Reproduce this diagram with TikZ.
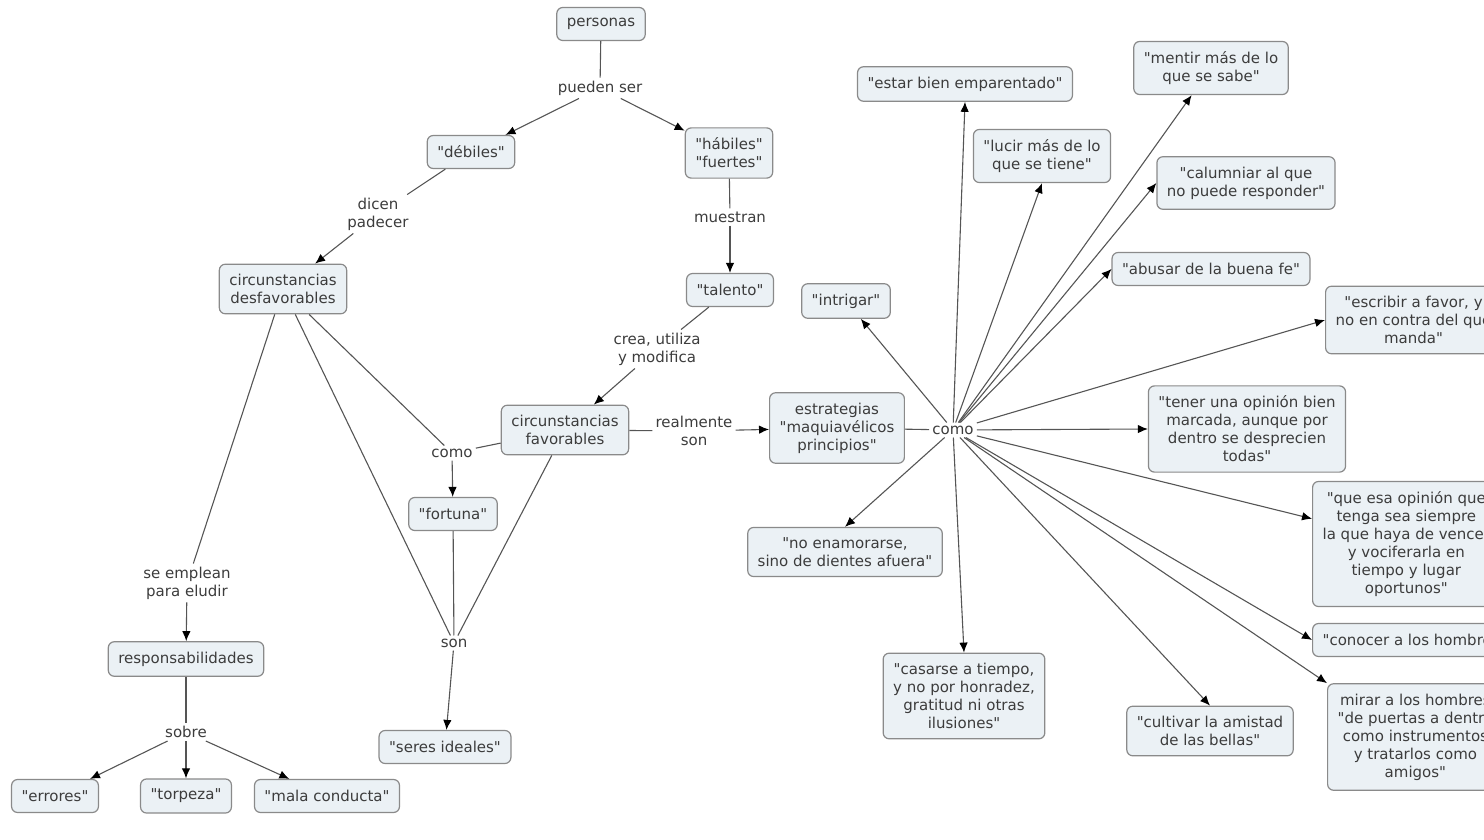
\documentclass[tikz,border=0pt]{standalone}
\usepackage{fontspec}
\setmainfont{DejaVu Sans}[Ligatures=TeXOff]
\usetikzlibrary{arrows.meta}
\definecolor{boxfill}{HTML}{EBF1F5}
\definecolor{boxline}{HTML}{8A8A8A}
\definecolor{txtgray}{HTML}{3C3C3C}
\definecolor{linegray}{HTML}{555555}
\begin{document}
\begin{tikzpicture}[x=1pt,y=-1pt,
    concept/.style={draw=boxline,line width=1.2pt,rounded corners=6pt,fill=boxfill,text=txtgray,align=center,inner xsep=10pt,inner ysep=10pt,minimum height=33pt,font=\fontsize{15}{18}\selectfont},
    linkphrase/.style={text=txtgray,align=center,inner sep=3pt,font=\fontsize{15}{18}\selectfont},
    joint/.style={draw=linegray,line width=1.1pt},
    arrowed/.style={joint,-{Latex[length=10pt,width=8.5pt,color=black]}}]
    \useasboundingbox (0,0) rectangle (1484,840);
    \node [concept] (personas) at (601,24) {personas};
    \node [linkphrase] (puedenser) at (600,88) {pueden ser};
    \node [concept] (debiles) at (471,152) {"débiles"};
    \node [concept] (habiles) at (729,153) {"hábiles"\\"fuertes"};
    \node [linkphrase] (dicen) at (378,214) {dicen\\padecer};
    \node [linkphrase] (muestran) at (730,217) {muestran};
    \node [concept] (desfav) at (283,289) {circunstancias\\desfavorables};
    \node [concept] (talento) at (730,290) {"talento"};
    \node [linkphrase] (crea) at (657,349) {crea, utiliza\\y modifica};
    \node [concept] (fav) at (565,430) {circunstancias\\favorables};
    \node [linkphrase] (realmente) at (694,431) {realmente\\son};
    \node [concept] (estrategias) at (837,428) {estrategias\\"maquiavélicos\\principios"};
    \node [linkphrase] (comoL) at (452,453) {como};
    \node [concept] (fortuna) at (453,514) {"fortuna"};
    \node [linkphrase] (son) at (454,643) {son};
    \node [concept] (seres) at (445,747) {"seres ideales"};
    \node [linkphrase] (emplean) at (187,583) {se emplean\\para eludir};
    \node [concept] (respons) at (186,659) {responsabilidades};
    \node [linkphrase] (sobre) at (186,732) {sobre};
    \node [concept] (errores) at (55,796) {"errores"};
    \node [concept] (torpeza) at (186,796) {"torpeza"};
    \node [concept] (mala) at (327,796) {"mala conducta"};
    \node [linkphrase] (comoR) at (953,430) {como};
    \node [concept] (estar) at (965,84) {"estar bien emparentado"};
    \node [concept] (mentir) at (1211,68) {"mentir más de lo\\que se sabe"};
    \node [concept] (lucir) at (1042,156) {"lucir más de lo\\que se tiene"};
    \node [concept] (calumniar) at (1246,183) {"calumniar al que\\no puede responder"};
    \node [concept] (abusar) at (1211,269) {"abusar de la buena fe"};
    \node [concept] (intrigar) at (846,301) {"intrigar"};
    \node [concept,anchor=west] (escribir) at (1325,320) {"escribir a favor, y\\no en contra del que\\manda"};
    \node [concept] (tener) at (1247,429) {"tener una opinión bien\\marcada, aunque por\\dentro se desprecien\\todas"};
    \node [concept,anchor=west] (opinion) at (1312,544) {"que esa opinión que\\tenga sea siempre\\la que haya de vencer\\y vociferarla en\\tiempo y lugar\\oportunos"};
    \node [concept,anchor=west] (conocer) at (1312,640) {"conocer a los hombres"};
    \node [concept,anchor=west] (mirar) at (1327,737) {mirar a los hombres\\"de puertas a dentro\\como instrumentos\\y tratarlos como\\amigos"};
    \node [concept] (cultivar) at (1210,731) {"cultivar la amistad\\de las bellas"};
    \node [concept] (casarse) at (964,696) {"casarse a tiempo,\\y no por honradez,\\gratitud ni otras\\ilusiones"};
    \node [concept] (enamorarse) at (845,552) {"no enamorarse,\\sino de dientes afuera"};
    \draw [joint] (personas) -- (puedenser);
    \draw [arrowed] (puedenser) -- (debiles);
    \draw [arrowed] (puedenser) -- (habiles);
    \draw [joint] (debiles) -- (dicen);
    \draw [arrowed] (dicen) -- (desfav);
    \draw [joint] (habiles) -- (muestran);
    \draw [arrowed] (muestran) -- (talento);
    \draw [joint] (talento) -- (crea);
    \draw [arrowed] (crea) -- (fav);
    \draw [joint] (fav) -- (realmente);
    \draw [arrowed] (realmente) -- (estrategias);
    \draw [joint] (desfav) -- (comoL);
    \draw [joint] (fav) -- (comoL);
    \draw [arrowed] (comoL) -- (fortuna);
    \draw [joint] (desfav) -- (son);
    \draw [joint] (fortuna) -- (son);
    \draw [joint] (fav) -- (son);
    \draw [arrowed] (son) -- (seres);
    \draw [joint] (desfav) -- (emplean);
    \draw [arrowed] (emplean) -- (respons);
    \draw [joint] (respons) -- (sobre);
    \foreach \t in {errores,torpeza,mala}
        \draw [arrowed] (sobre) -- (\t);
    \draw [joint] (estrategias) -- (comoR);
    \foreach \t in {intrigar,estar.south,lucir.south,mentir,calumniar.west,abusar.west,escribir.west,tener.west,opinion.165,conocer.west,mirar.north west,cultivar.north,casarse.north,enamorarse.north}
        \draw [arrowed] (comoR) -- (\t);
\end{tikzpicture}
\end{document}
